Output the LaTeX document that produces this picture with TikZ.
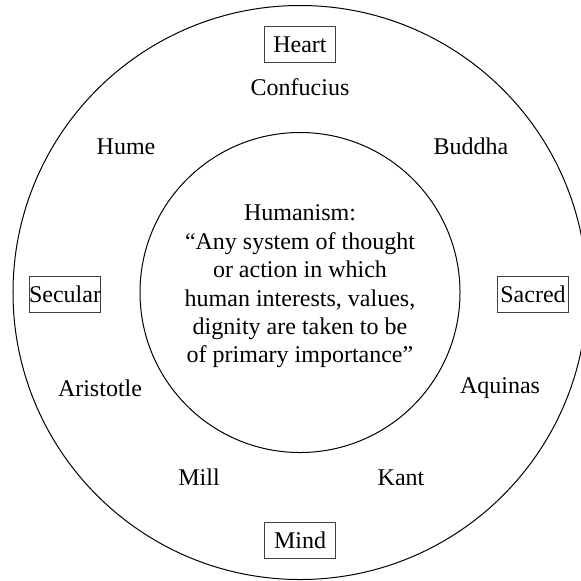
\documentclass[tikz,border=0pt]{standalone}
\usepackage{fontspec}
\setmainfont{Liberation Serif}
\begin{document}
\begin{tikzpicture}[x=0.5pt,y=0.5pt,
  font=\fontsize{12}{14.2}\selectfont,
  ring/.style={circle, draw, line width=0.5pt, inner sep=0pt},
  pole/.style={rectangle, draw=black!75, line width=0.5pt, inner sep=0pt,
               minimum width=35.5pt, minimum height=18pt},
  thinker/.style={inner sep=1pt}]
\useasboundingbox (-300,292.5) rectangle (281,-287.5);
\clip (-300,292.5) rectangle (281,-287.5);
% the two rings
\node[ring, minimum size=287pt] (rim) at (0,0) {};
\node[ring, minimum size=160pt] (hub) at (0,0) {};
% definition in the middle
\node[align=center] (humanism) at (0,6) {Humanism:\\
  “Any system of thought\\ or action in which\\ human interests, values,\\
  dignity are taken to be\\ of primary importance”};
% the four poles
\node[pole] (heart)   at (0,248)   {Heart};
\node[pole] (mind)    at (0,-248)  {Mind};
\node[pole] (secular) at (-235,-2) {Secular};
\node[pole] (sacred)  at (233,-2)  {Sacred};
% thinkers round the ring
\node[thinker] (confucius) at (0,205)       {Confucius};
\node[thinker] (hume)      at (-174,146)    {Hume};
\node[thinker] (buddha)    at (171,146)     {Buddha};
\node[thinker] (aristotle) at (-200,-96)    {Aristotle};
\node[thinker] (aquinas)   at (200,-96)     {Aquinas};
\node[thinker] (mill)      at (-101,-185)   {Mill};
\node[thinker] (kant)      at (101,-185)    {Kant};
\end{tikzpicture}
\end{document}
